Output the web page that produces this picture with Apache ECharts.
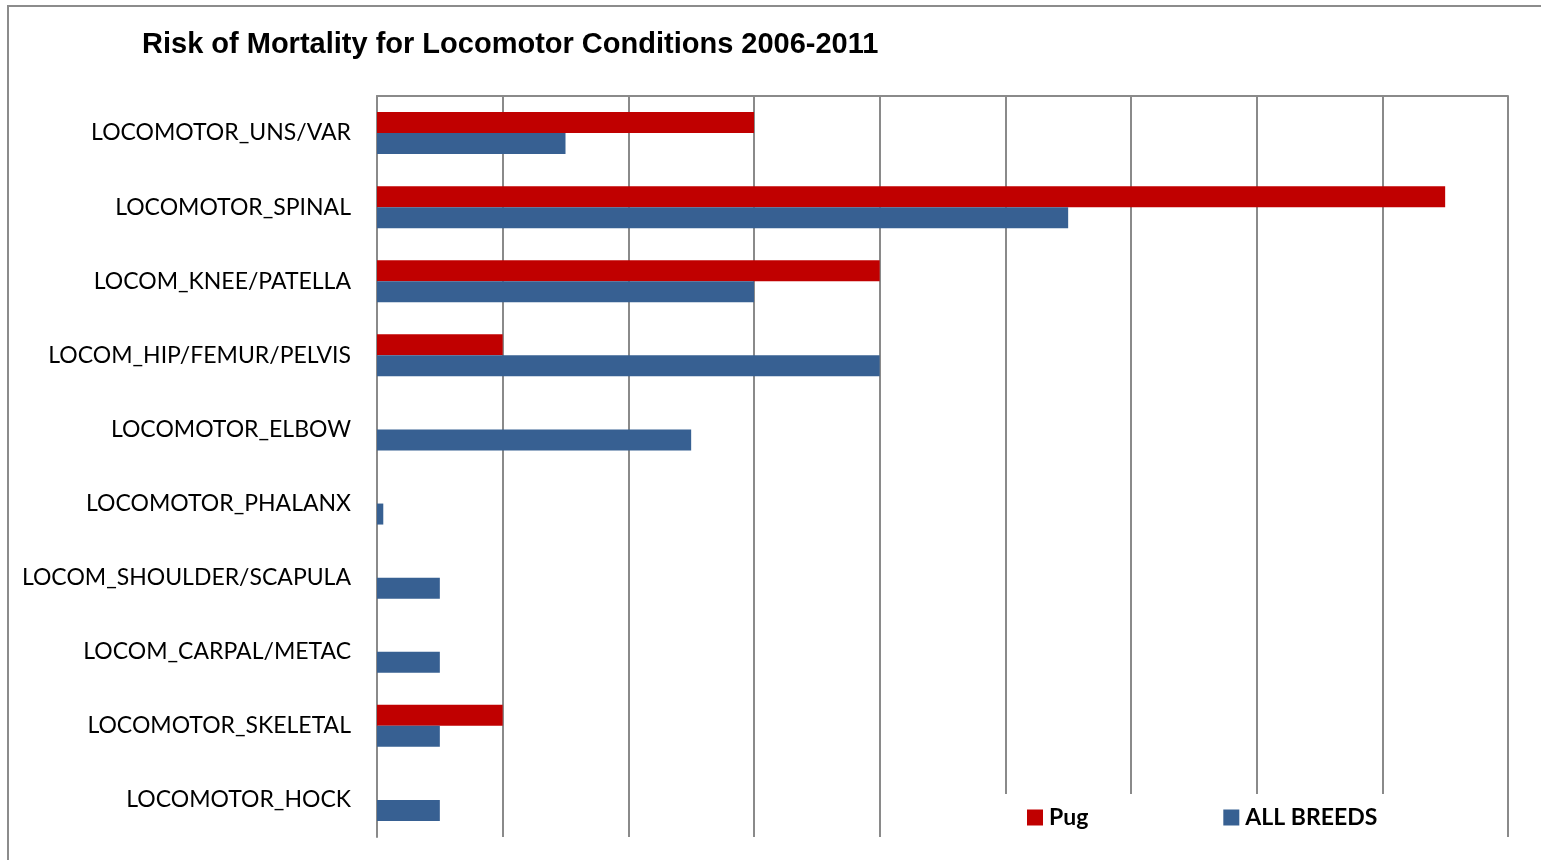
<!DOCTYPE html>
<html>
<head>
<meta charset="utf-8">
<script src="https://cdn.jsdelivr.net/npm/echarts@6/dist/echarts.min.js"></script>
<style>
html,body{margin:0;padding:0;background:#fff;}
#chart{width:1541px;height:860px;}
</style>
</head>
<body>
<div id="chart"></div>
<script>
const categories = ['LOCOMOTOR_UNS/VAR','LOCOMOTOR_SPINAL','LOCOM_KNEE/PATELLA','LOCOM_HIP/FEMUR/PELVIS','LOCOMOTOR_ELBOW','LOCOMOTOR_PHALANX','LOCOM_SHOULDER/SCAPULA','LOCOM_CARPAL/METAC','LOCOMOTOR_SKELETAL','LOCOMOTOR_HOCK'];
const pugValues = [3, 8.5, 4, 1, 0, 0, 0, 0, 1, 0];
const allBreedsValues = [1.5, 5.5, 3, 4, 2.5, 0.05, 0.5, 0.5, 0.5, 0.5];
const seriesNames = ['Pug', 'ALL BREEDS'];
const titleText = 'Risk of Mortality for Locomotor Conditions 2006-2011';

const chart = echarts.init(document.getElementById('chart'), null, {renderer: 'canvas'});
const gridColor = '#8a8a8a';
chart.setOption({
  animation: false,
  title: {
    text: titleText,
    left: 137, top: 25,
    textStyle: {fontFamily: 'Liberation Sans, Arial, sans-serif', fontWeight: 'bold', fontSize: 29, color: '#000'}
  },
  graphic: [{
    type: 'rect', z: -1, silent: true,
    shape: {x: 8, y: 6, width: 1600, height: 900},
    style: {fill: 'none', stroke: '#8c8c8c', lineWidth: 2}
  }],
  legend: {
    data: seriesNames,
    left: 1005, top: 794,
    orient: 'horizontal',
    itemWidth: 16, itemHeight: 16,
    itemGap: 135,
    icon: 'rect',
    backgroundColor: '#fff',
    padding: [12, 9, 10, 22],
    textStyle: {fontFamily: 'Lato, sans-serif', fontWeight: 'bold', fontSize: 23, color: '#000', padding: [0,0,0,1]}
  },
  grid: {left: 377, right: 33, top: 96, bottom: 23, containLabel: false},
  xAxis: {
    type: 'value', position: 'top', min: 0, max: 9, interval: 1,
    axisLine: {show: true, lineStyle: {color: gridColor, width: 2}},
    axisTick: {show: false},
    axisLabel: {show: false},
    splitLine: {show: true, lineStyle: {color: gridColor, width: 2}}
  },
  yAxis: {
    type: 'category', inverse: true, data: categories,
    axisLine: {show: true, lineStyle: {color: gridColor, width: 2}},
    axisTick: {show: false},
    axisLabel: {fontFamily: 'Lato, sans-serif', fontSize: 23, color: '#000', margin: 26}
  },
  series: [
    {name: seriesNames[0], type: 'bar', data: pugValues, barWidth: 21, barGap: '0%',
     itemStyle: {color: '#C00000'}},
    {name: seriesNames[1], type: 'bar', data: allBreedsValues, barWidth: 21, barGap: '0%',
     itemStyle: {color: '#376092'}}
  ]
});
</script>
</body>
</html>
